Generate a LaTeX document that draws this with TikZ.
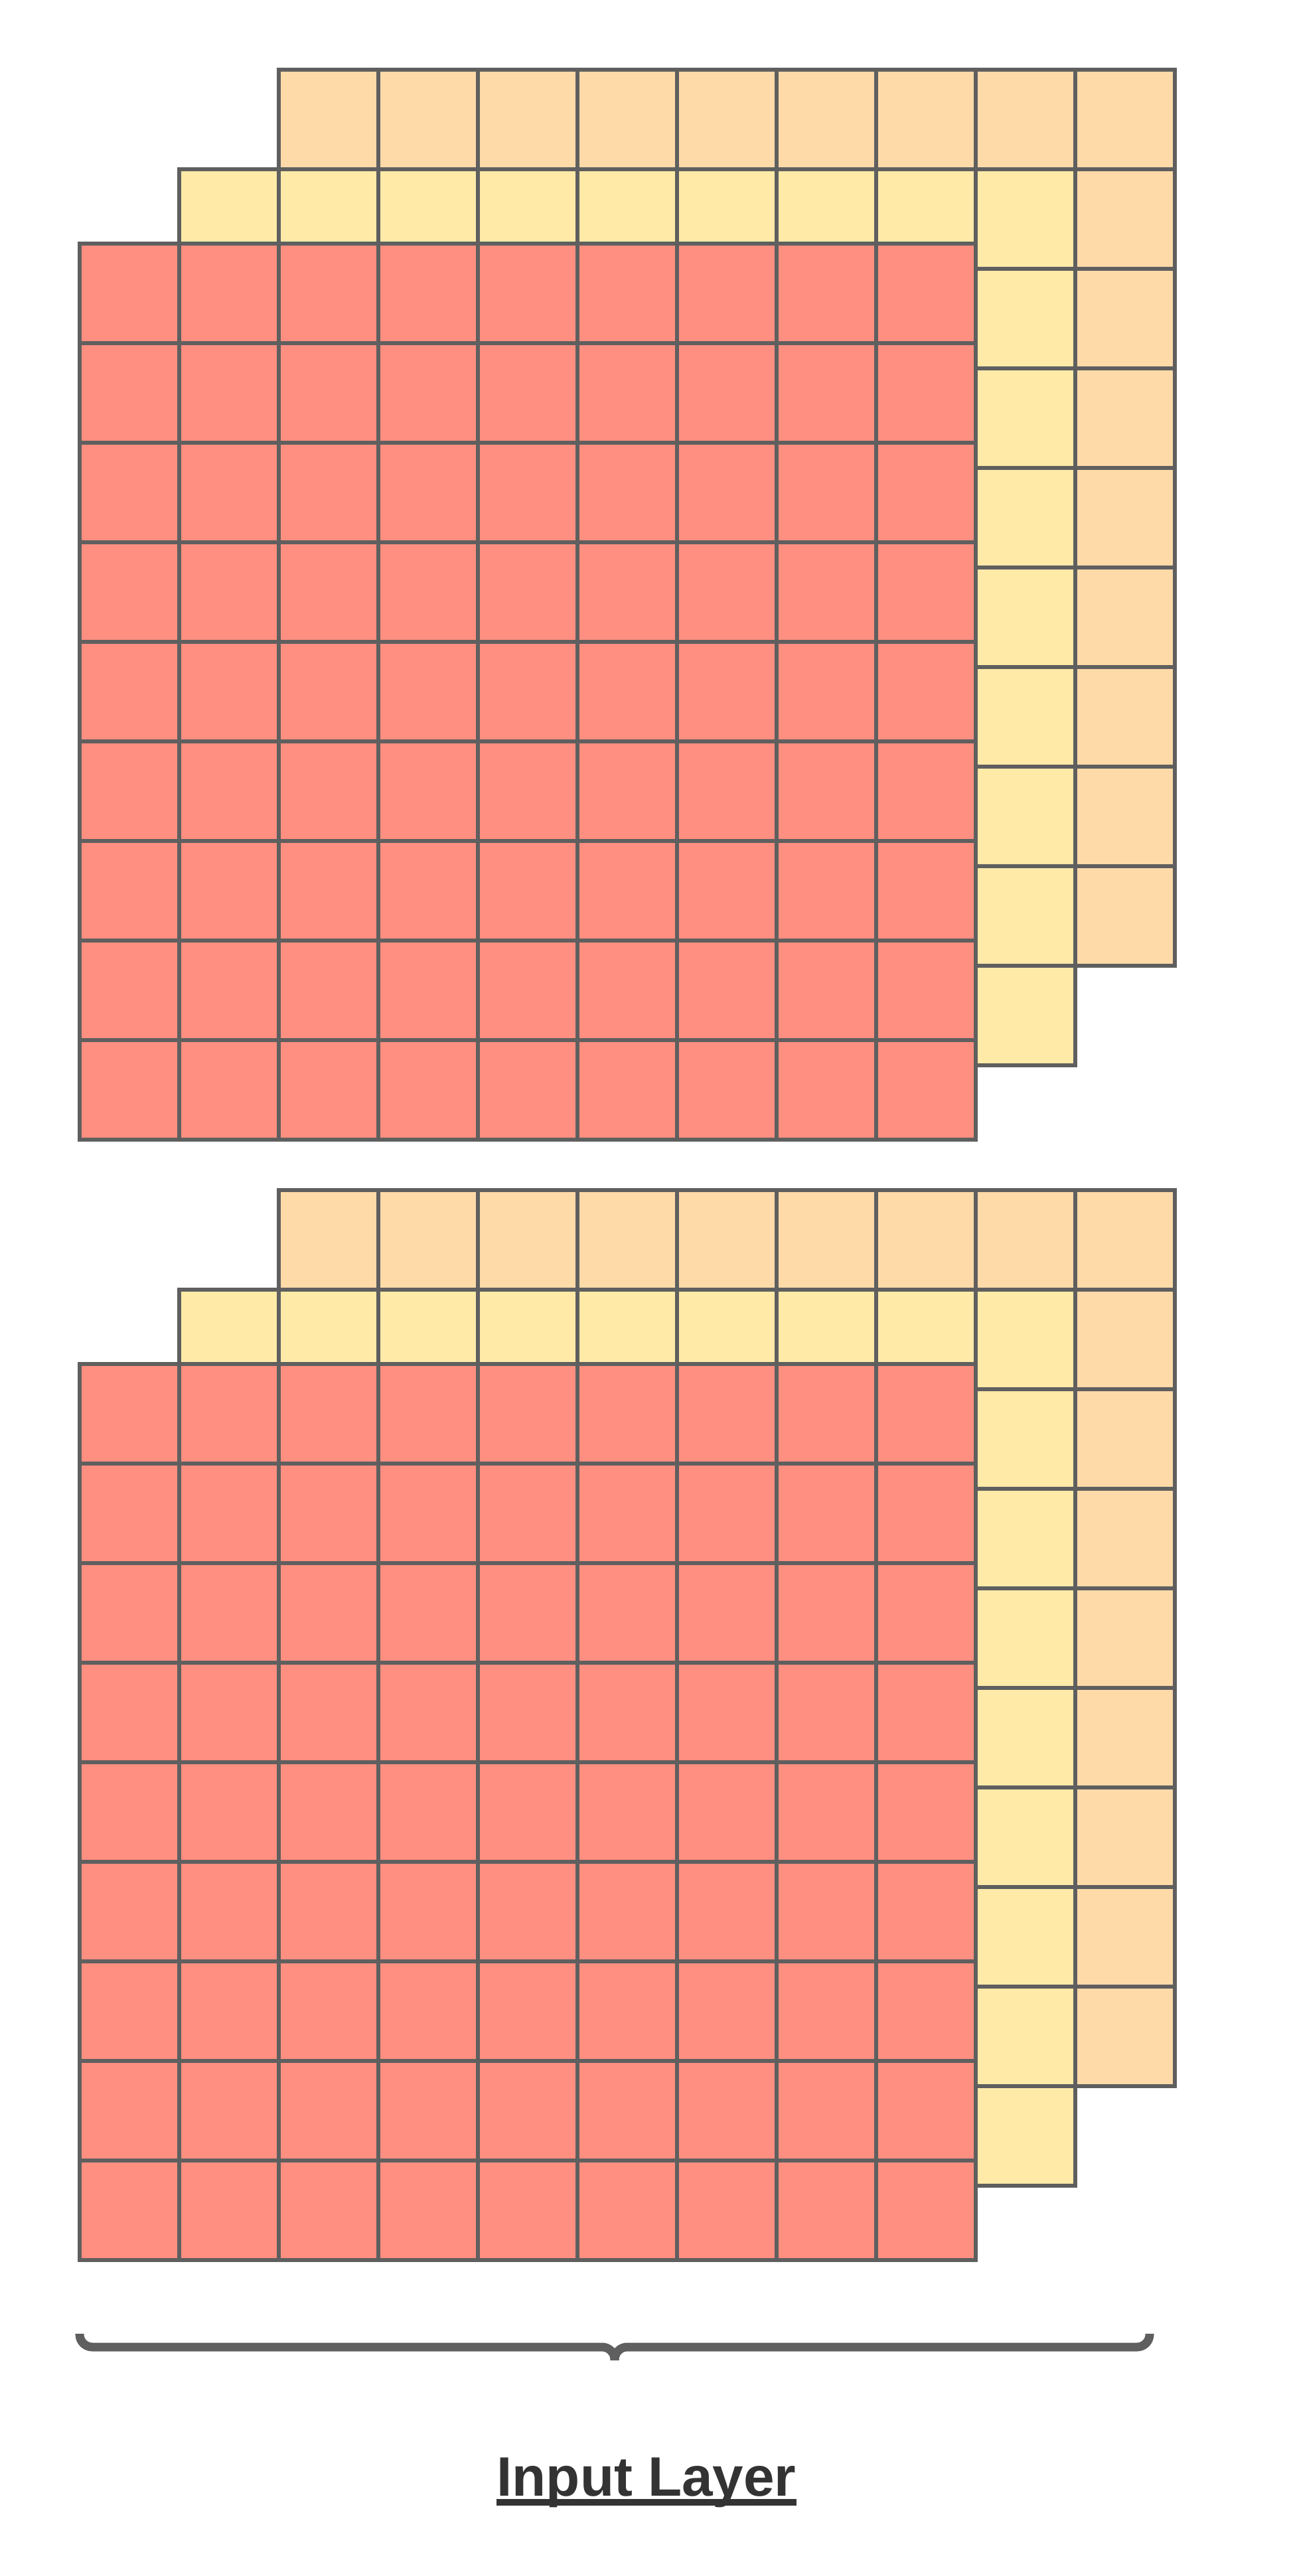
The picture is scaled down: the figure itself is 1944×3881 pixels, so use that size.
\documentclass[tikz,border=0pt]{standalone}
\usepackage{fontspec}
\setmainfont{Liberation Sans}
\usepackage{tikz}
\definecolor{Salmon}{HTML}{FF8F80}
\definecolor{Lemon}{HTML}{FFEAA8}
\definecolor{Peach}{HTML}{FFDAA9}
\definecolor{GridGray}{HTML}{5F5F5F}
\definecolor{Ink}{HTML}{333333}

\begin{document}
\begin{tikzpicture}[
    x=0.01cm, y=-0.01cm,
    cell/.style={draw=GridGray, line width=0.06cm},
    brc/.style={draw=GridGray, line width=0.13cm, line cap=butt, rounded corners=0.19cm},
    title/.style={font=\fontsize{23.8pt}{28pt}\selectfont\bfseries, text=Ink, inner sep=0pt, anchor=base}
]
\useasboundingbox (0,0) rectangle (1944,3881);

% Input channels, two stacks (back to front)
\foreach \gy in {0,1688} {
  \foreach \ox/\oy/\col in {300/-262/Peach, 150/-112/Lemon, 0/0/Salmon} {
    \foreach \i in {0,...,8} {
      \foreach \j in {0,...,8} {
        \draw[cell, fill=\col] ({120+\ox+150*\i}, {367+\gy+\oy+150*\j}) rectangle ++(150,150);
      }
    }
  }
}

% Brace and label
\draw[brc] (120,3516) -- (120,3536) -- (926,3536) -- (926,3556);
\draw[brc] (1732,3516) -- (1732,3536) -- (926,3536) -- (926,3556);
\node[title] (inlayer) at (974,3760) {Input Layer};
\draw[Ink, line width=0.10cm] ([yshift=-0.10cm]inlayer.base west) -- ([yshift=-0.10cm]inlayer.base east);

\end{tikzpicture}
\end{document}
